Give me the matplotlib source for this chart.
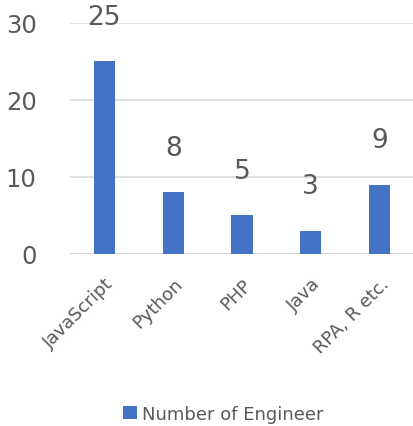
import matplotlib.pyplot as plt

languages = ['JavaScript', 'Python', 'PHP', 'Java', 'RPA, R etc.']
engineers = [25, 8, 5, 3, 9]
y_ticks = [0, 10, 20, 30]


def main():
    fig = plt.figure(figsize=(4.14, 4.27), dpi=100)
    ax = fig.add_axes([0.169, 0.403, 0.831, 0.541])

    bars = ax.bar(languages, engineers, width=0.31, color='#4472C4',
                  label='Number of Engineer', zorder=3)

    # valeurs au-dessus des barres
    for rect, v in zip(bars, engineers):
        ax.annotate(str(v), (rect.get_x() + rect.get_width() / 2, v),
                    xytext=(0, 32), textcoords='offset points',
                    ha='center', va='center', fontsize=19, color='#595959')

    ax.set_ylim(0, 30)
    ax.set_xlim(-0.5, 4.5)
    ax.set_yticks(y_ticks)
    ax.yaxis.grid(True, color='#D9D9D9', linewidth=1.2, zorder=0)
    ax.axhline(0, color='#D9D9D9', linewidth=1.5, zorder=1)
    for s in ax.spines.values():
        s.set_visible(False)
    ax.tick_params(axis='both', length=0)
    ax.tick_params(axis='y', labelsize=17.5, labelcolor='#595959', pad=24)
    ax.tick_params(axis='x', labelsize=13, labelcolor='#595959', pad=15)
    plt.setp(ax.get_xticklabels(), rotation=45, ha='right',
             rotation_mode='anchor')

    fig.legend(loc='lower center', bbox_to_anchor=(0.54, -0.03),
               frameon=False, fontsize=13, labelcolor='#595959',
               handlelength=0.75, handleheight=0.75, handletextpad=0.3)

    fig.savefig('out.png', dpi=100)


if __name__ == '__main__':
    main()
